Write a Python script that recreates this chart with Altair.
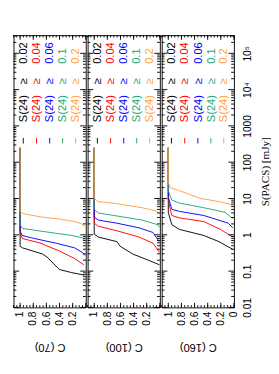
import altair as alt
import pandas as pd

panel_titles = ["C (70)", "C (100)", "C (160)"]
thresholds = ["0.02", "0.04", "0.06", "0.1", "0.2"]
colors = ["#000000", "#FF0000", "#0000FF", "#1FA876", "#FF9F40"]

# ---- C(70) curves: completeness C vs S(PACS) [mJy]
c70_k_C = [1.0, 1.0, 0.963, 0.659, 0.589, 0.403, 0.215, 0.029]
c70_k_S = [250, 0.483, 0.437, 0.296, 0.243, 0.111, 0.091, 0.078]
c70_r_C = [1.0, 1.0, 0.963, 0.869, 0.683, 0.635, 0.403, 0.169, 0.029]
c70_r_S = [250, 1.054, 0.785, 0.714, 0.586, 0.533, 0.360, 0.221, 0.149]
c70_b_C = [1.0, 1.0, 0.971, 0.775, 0.449, 0.169, 0.052, 0.01]
c70_b_S = [250, 1.288, 0.959, 0.785, 0.586, 0.437, 0.326, 0.268]
c70_g_C = [1.0, 1.0, 0.963, 0.775, 0.449, 0.215, 0.052, 0.019]
c70_g_S = [250, 1.897, 1.50, 1.334, 1.099, 0.959, 0.832, 0.714]
c70_o_C = [1.0, 1.0, 0.939, 0.683, 0.355, 0.169, 0.052, 0.019]
c70_o_S = [250, 4.315, 3.776, 3.105, 2.649, 2.317, 1.977, 1.622]

# ---- C(100)
c100_k_C = [1.0, 1.0, 0.939, 0.653, 0.604, 0.414, 0.176, 0.005]
c100_k_S = [250, 1.05, 0.869, 0.647, 0.483, 0.296, 0.20, 0.149]
c100_r_C = [1.0, 1.0, 0.939, 0.653, 0.319, 0.104, 0.005]
c100_r_S = [250, 2.09, 1.73, 1.29, 0.869, 0.586, 0.326]
c100_b_C = [1.0, 1.0, 0.939, 0.653, 0.319, 0.104, 0.01]
c100_b_S = [250, 3.10, 2.55, 2.09, 1.56, 1.16, 0.646]
c100_g_C = [1.0, 1.0, 0.939, 0.653, 0.271, 0.033, 0.005]
c100_g_S = [250, 5.06, 4.0, 3.30, 2.55, 1.90, 1.62]
c100_o_C = [1.0, 1.0, 0.939, 0.653, 0.271, 0.057, 0.005]
c100_o_S = [250, 10.0, 8.24, 7.19, 5.58, 4.57, 3.78]

# ---- C(160)
c160_k_C = [1.0, 1.0, 0.947, 0.831, 0.459, 0.227, 0.018]
c160_k_S = [250, 4.17, 1.90, 1.41, 0.959, 0.647, 0.398]
c160_r_C = [1.0, 1.0, 0.947, 0.831, 0.459, 0.204, 0.018]
c160_r_S = [250, 9.1, 3.41, 2.93, 2.32, 1.41, 0.869]
c160_b_C = [1.0, 1.0, 0.947, 0.831, 0.459, 0.087, 0.018]
c160_b_S = [250, 11.0, 5.06, 4.42, 3.41, 2.09, 1.56]
c160_g_C = [1.0, 1.0, 0.947, 0.831, 0.459, 0.135, 0.018]
c160_g_S = [250, 16.4, 9.1, 7.5, 5.58, 4.17, 2.81]
c160_o_C = [1.0, 1.0, 0.97, 0.831, 0.505, 0.227, 0.041, 0.01]
c160_o_S = [250, 26.9, 19.95, 16.4, 10.0, 8.24, 6.79, 6.0]

flux_ticks = [0.01, 0.1, 1, 10, 100, 1000, 10000, 100000]
c_ticks = [1, 0.8, 0.6, 0.4, 0.2]
c_ticks_last = [1, 0.8, 0.6, 0.4, 0.2, 0]

W, H = 78, 294
yscale = alt.Scale(type="log", domain=[0.01, 10 ** 5.5], nice=False)
xscale = alt.Scale(domain=[0, 1.1], reverse=True, nice=False, zero=False)

maj_S = [10.0 ** k for k in range(-2, 6)]
min_S = [m * 10.0 ** k for k in range(-2, 6) for m in range(2, 10) if m * 10.0 ** k <= 10 ** 5.5]
maj_C = [0, 0.2, 0.4, 0.6, 0.8, 1.0]
min_C = [round(0.05 * i, 2) for i in range(0, 23)]

FONT = "Liberation Sans"
LEG_X = [10.5, 24.8, 39.0, 53.0, 67.0]


def make_panel(title, Cs, Ss, cvals, show_y):
    xaxis = alt.Axis(values=cvals, format="~g", labelAngle=270, title=title,
                     titleAngle=180, titleBaseline="bottom", ticks=False, domain=False,
                     grid=False, labelFont=FONT, labelFontSize=11, labelPadding=4,
                     titleFont=FONT, titleFontSize=12, titleFontWeight="normal",
                     titlePadding=17, labelColor="black", titleColor="black")
    if show_y:
        yaxis = alt.Axis(orient="right", values=flux_ticks,
                         labelExpr="datum.value == 10000 ? '10⁴' : datum.value == 100000 ? '10⁵' : format(datum.value, '~g')",
                         labelAngle=270, labelAlign="center", labelBaseline="top",
                         ticks=False, domain=False, grid=False, labelFont=FONT,
                         labelFontSize=11, labelPadding=9, labelColor="black",
                         title="S(PACS) [mJy]", titleAngle=270, titleBaseline="top",
                         titleFont="Liberation Serif", titleFontSize=12,
                         titleFontWeight="normal", titleColor="black", titlePadding=8)
    else:
        yaxis = None
    X = lambda: alt.X("C:Q", scale=xscale, axis=xaxis)
    Y = lambda: alt.Y("S:Q", scale=yscale, axis=yaxis)

    layers = []
    # curves
    for C, S, col in zip(Cs, Ss, colors):
        df = pd.DataFrame({"C": C, "S": S, "i": list(range(len(C)))})
        layers.append(alt.Chart(df).mark_line(color=col, strokeWidth=1, clip=True).encode(
            x=X(), y=Y(), order="i:Q"))
    # inward ticks on flux axis (both edges)
    for vals, ln in ((maj_S, 6), (min_S, 3)):
        df = pd.DataFrame({"S": vals})
        layers.append(alt.Chart(df).mark_rule(color="black", strokeWidth=1).encode(
            y=Y(), x=alt.value(0), x2=alt.value(ln)))
        layers.append(alt.Chart(df).mark_rule(color="black", strokeWidth=1).encode(
            y=Y(), x=alt.value(W), x2=alt.value(W - ln)))
    # inward ticks on C axis (both edges)
    for vals, ln in ((maj_C, 5), (min_C, 2.5)):
        df = pd.DataFrame({"C": vals})
        layers.append(alt.Chart(df).mark_rule(color="black", strokeWidth=1).encode(
            x=X(), y=alt.value(H), y2=alt.value(H - ln)))
        layers.append(alt.Chart(df).mark_rule(color="black", strokeWidth=1).encode(
            x=X(), y=alt.value(0), y2=alt.value(ln)))
    # legend
    for lab, col, px in zip(thresholds, colors, LEG_X):
        one = pd.DataFrame({"lab": [lab]})
        layers.append(alt.Chart(one).mark_rule(color=col, strokeWidth=1).encode(
            x=alt.value(px), y=alt.value(111), y2=alt.value(117)))
        layers.append(alt.Chart(one).mark_text(angle=270, align="left", baseline="middle",
                                               font=FONT, fontSize=12, color=col).encode(
            x=alt.value(px), y=alt.value(94), text=alt.value("S(24)")))
        layers.append(alt.Chart(one).mark_text(angle=270, align="center", baseline="middle",
                                               font=FONT, fontSize=12, color=col).encode(
            x=alt.value(px), y=alt.value(50), text=alt.value("≥")))
        layers.append(alt.Chart(one).mark_text(angle=270, align="left", baseline="middle",
                                               font=FONT, fontSize=12, color=col).encode(
            x=alt.value(px), y=alt.value(31), text="lab:N"))
    return alt.layer(*layers).properties(width=W, height=H)


p1 = make_panel(panel_titles[0],
                [c70_k_C, c70_r_C, c70_b_C, c70_g_C, c70_o_C],
                [c70_k_S, c70_r_S, c70_b_S, c70_g_S, c70_o_S], c_ticks, False)
p2 = make_panel(panel_titles[1],
                [c100_k_C, c100_r_C, c100_b_C, c100_g_C, c100_o_C],
                [c100_k_S, c100_r_S, c100_b_S, c100_g_S, c100_o_S], c_ticks, False)
p3 = make_panel(panel_titles[2],
                [c160_k_C, c160_r_C, c160_b_C, c160_g_C, c160_o_C],
                [c160_k_S, c160_r_S, c160_b_S, c160_g_S, c160_o_S], c_ticks_last, True)

chart = alt.hconcat(p1, p2, p3, spacing=0).properties(
    padding={"left": 5, "top": 14, "right": 0, "bottom": 0}
).configure_view(stroke="black", strokeWidth=1)

chart.save("out.html", embed_options={"renderer": "svg", "actions": False})
